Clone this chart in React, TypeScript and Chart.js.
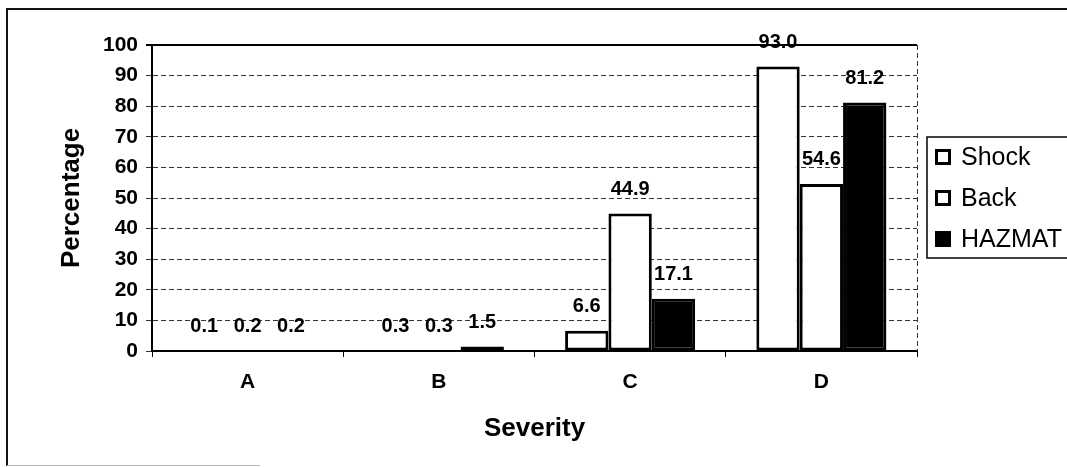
import React, { useEffect, useRef } from "react";
import { Chart, registerables } from "chart.js";

Chart.register(...registerables);

const categories = ["A", "B", "C", "D"];
const seriesNames = ["Shock", "Back", "HAZMAT"];
const shockValues = [0.1, 0.3, 6.6, 93.0];
const backValues = [0.2, 0.3, 44.9, 54.6];
const hazmatValues = [0.2, 1.5, 17.1, 81.2];
const seriesFill = ["#ffffff", "#ffffff", "#000000"];
const yMin = 0;
const yMax = 100;
const yStep = 10;
const xTitle = "Severity";
const yTitle = "Percentage";

const FONT = "'Liberation Sans', Arial, Helvetica, sans-serif";

const decorPlugin = {
  id: "decor",
  beforeDraw(chart: any) {
    const { ctx, width, height } = chart;
    ctx.save();
    ctx.fillStyle = "#ffffff";
    ctx.fillRect(0, 0, width, height);
    ctx.restore();
  },
  afterDatasetsDraw(chart: any) {
    const { ctx } = chart;
    ctx.save();
    ctx.fillStyle = "#000";
    ctx.font = `bold 20px ${FONT}`;
    ctx.textAlign = "center";
    ctx.textBaseline = "middle";
    chart.data.datasets.forEach((ds: any, di: number) => {
      const meta = chart.getDatasetMeta(di);
      meta.data.forEach((el: any, i: number) => {
        const v = ds.data[i] as number;
        ctx.fillText(v.toFixed(1), el.x, el.y - 24);
      });
    });
    ctx.restore();
  },
  afterDraw(chart: any) {
    const { ctx, chartArea: ca, width, height } = chart;
    ctx.save();
    // outer frame
    ctx.strokeStyle = "#111";
    ctx.lineWidth = 2;
    ctx.beginPath();
    ctx.moveTo(7, height - 1);
    ctx.lineTo(7, 9);
    ctx.lineTo(width, 9);
    ctx.stroke();
    ctx.strokeStyle = "#bbb";
    ctx.lineWidth = 1;
    ctx.beginPath();
    ctx.moveTo(7, height - 1.5);
    ctx.lineTo(260, height - 1.5);
    ctx.stroke();
    // top solid gridline
    ctx.strokeStyle = "#000";
    ctx.lineWidth = 2;
    ctx.beginPath();
    ctx.moveTo(ca.left - 6, ca.top);
    ctx.lineTo(ca.right, ca.top);
    ctx.stroke();
    // right dashed border
    ctx.lineWidth = 1;
    ctx.strokeStyle = "#333";
    ctx.setLineDash([5, 3]);
    ctx.beginPath();
    ctx.moveTo(ca.right + 0.5, ca.top);
    ctx.lineTo(ca.right + 0.5, ca.bottom);
    ctx.stroke();
    ctx.setLineDash([]);
    // legend
    const lx = 927;
    const ly = 137;
    const lw = 150;
    const lh = 121;
    ctx.strokeStyle = "#000";
    ctx.lineWidth = 1.5;
    ctx.strokeRect(lx, ly, lw, lh);
    const centers = [157, 198, 239];
    ctx.font = `25px ${FONT}`;
    ctx.textAlign = "left";
    ctx.textBaseline = "middle";
    seriesNames.forEach((name, i) => {
      const cy = centers[i];
      ctx.fillStyle = seriesFill[i];
      ctx.fillRect(935, cy - 8, 16, 16);
      ctx.lineWidth = 3;
      ctx.strokeStyle = "#000";
      ctx.strokeRect(936.5, cy - 6.5, 13, 13);
      ctx.fillStyle = "#000";
      ctx.fillText(name, 961, cy + 1);
    });
    ctx.restore();
  },
};

export default function App() {
  const ref = useRef<HTMLCanvasElement | null>(null);
  useEffect(() => {
    if (!ref.current) return;
    const values = [shockValues, backValues, hazmatValues];
    const chart = new Chart(ref.current, {
      type: "bar",
      data: {
        labels: categories,
        datasets: seriesNames.map((name, i) => ({
          label: name,
          data: values[i],
          backgroundColor: seriesFill[i],
          borderColor: "#000",
          borderWidth: 3,
          borderSkipped: false,
          categoryPercentage: 0.68,
          barPercentage: 1,
        })),
      },
      options: {
        responsive: false,
        devicePixelRatio: 1,
        animation: false,
        layout: { padding: { left: 0, top: 45, right: 150, bottom: 0 } },
        plugins: {
          legend: { display: false },
          tooltip: { enabled: false },
        },
        scales: {
          x: {
            type: "category",
            offset: true,
            grid: {
              drawOnChartArea: false,
              drawTicks: true,
              tickLength: 6,
              offset: true,
              color: "#000",
              lineWidth: 1,
            },
            border: { display: true, color: "#000", width: 2 },
            ticks: {
              color: "#000",
              font: { family: FONT, size: 21, weight: "bold" },
              padding: 13,
            },
            title: {
              display: true,
              text: xTitle,
              color: "#000",
              font: { family: FONT, size: 26, weight: "bold" },
              padding: { top: 0, bottom: 23 },
            },
            afterFit: (scale: any) => {
              scale.height = 116;
            },
          },
          y: {
            min: yMin,
            max: yMax,
            ticks: {
              stepSize: yStep,
              color: "#000",
              font: { family: FONT, size: 21, weight: "bold" },
              padding: 8,
            },
            grid: {
              color: "#333",
              lineWidth: 1,
              drawTicks: true,
              tickLength: 6,
            },
            border: { display: true, color: "#000", width: 2, dash: [5, 3] },
            title: {
              display: true,
              text: yTitle,
              color: "#000",
              font: { family: FONT, size: 26, weight: "bold" },
              padding: { top: 56, bottom: 0 },
            },
            afterFit: (scale: any) => {
              scale.width = 152;
            },
          },
        },
      },
      plugins: [decorPlugin],
    } as any);
    return () => chart.destroy();
  }, []);
  return (
    <canvas
      ref={ref}
      width={1067}
      height={467}
      style={{ position: "absolute", left: 0, top: 0, width: 1067, height: 467 }}
    />
  );
}
